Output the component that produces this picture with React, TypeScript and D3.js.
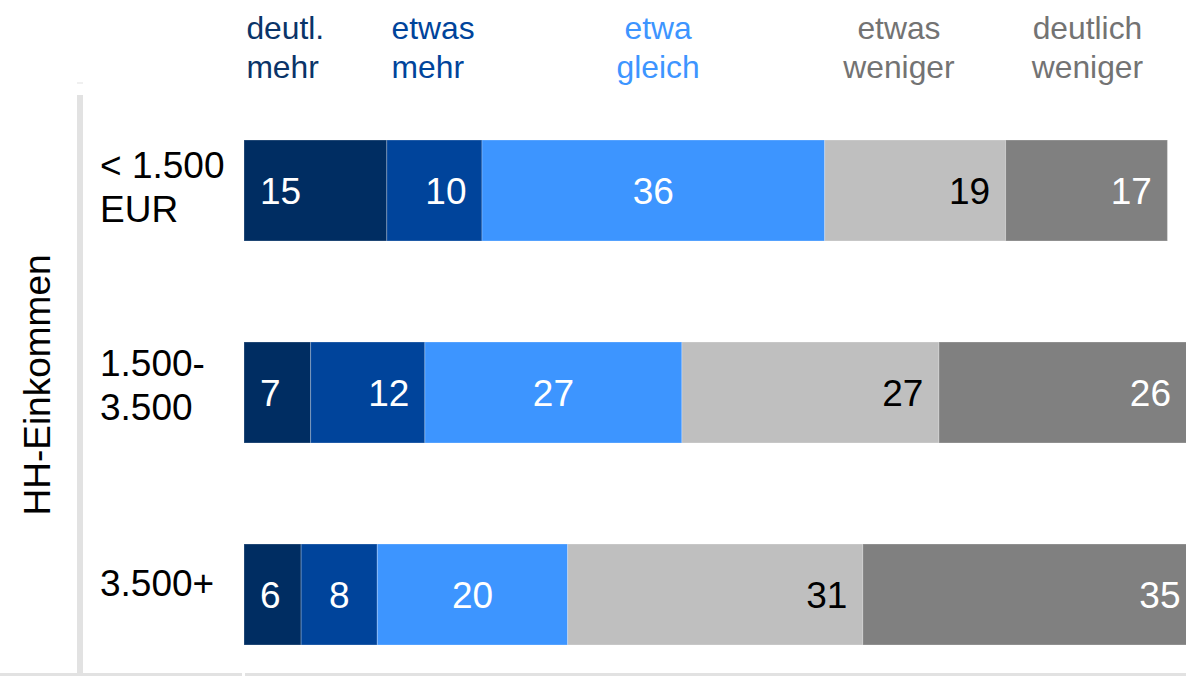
import React from "react";
import * as d3 from "d3";

const categories = ["< 1.500\nEUR", "1.500-\n3.500", "3.500+"];
const seriesNames = ["deutl.\nmehr", "etwas\nmehr", "etwa\ngleich", "etwas\nweniger", "deutlich\nweniger"];
const deutlMehr = [15, 7, 6];
const etwasMehr = [10, 12, 8];
const etwaGleich = [36, 27, 20];
const etwasWeniger = [19, 27, 31];
const deutlichWeniger = [17, 26, 35];
const yTitle = "HH-Einkommen";

const series = [deutlMehr, etwasMehr, etwaGleich, etwasWeniger, deutlichWeniger];
const fills = ["#002d62", "#00449b", "#3d95ff", "#bfbfbf", "#808080"];
const headerColors = ["#0a3468", "#00449b", "#3d95ff", "#737373", "#737373"];
const labelColors = ["#ffffff", "#ffffff", "#ffffff", "#000000", "#ffffff"];
// header anchor positions in value units and anchors
const headerPos = [0.25, 15.5, 43.5, 68.8, 88.6];
const headerAnchor = ["start", "start", "middle", "middle", "middle"];
// per-row baseline offset of first category line relative to band centre
const rowLabelOffset = [-12.5, -17, 1];

const W = 1186;
const H = 676;
const FONT = "'Liberation Sans', Arial, sans-serif";

export default function App() {
  const x = d3.scaleLinear().domain([0, 100]).range([244, 1196]);
  const y = d3.scaleBand<number>().domain([0, 1, 2]).range([140, 746]).paddingInner(0).paddingOuter(0);
  const barH = 101;

  const stack = d3
    .stack<number>()
    .keys([0, 1, 2, 3, 4] as any)
    .value((i: number, k: any) => series[k][i]);
  const stacked = stack([0, 1, 2]);

  return (
    <svg
      width={W}
      height={H}
      style={{ position: "absolute", left: 0, top: 0, fontFamily: FONT, background: "#fff" }}
    >
      <defs>
        <clipPath id="clip">
          <rect x={0} y={0} width={W} height={H} />
        </clipPath>
      </defs>
      {/* axis decorations */}
      <rect x={77} y={82} width={6} height={2} fill="#f0f0f0" />
      <rect x={77} y={95} width={6} height={H - 95} fill="#e2e2e2" />
      <rect x={0} y={673} width={242} height={3} fill="#e2e2e2" />
      <rect x={245} y={673} width={W - 245} height={3} fill="#e2e2e2" />

      {/* header */}
      {seriesNames.map((name, k) => (
        <text
          key={"h" + k}
          x={x(headerPos[k])}
          y={39}
          fontSize={31.8}
          fill={headerColors[k]}
          textAnchor={headerAnchor[k] as any}
        >
          {name.split("\n").map((line, j) => (
            <tspan key={j} x={x(headerPos[k])} dy={j === 0 ? 0 : 39}>
              {line}
            </tspan>
          ))}
        </text>
      ))}

      {/* y title */}
      <text
        transform={`translate(50,385) rotate(-90)`}
        textAnchor="middle"
        fontSize={37}
        fill="#000"
      >
        {yTitle}
      </text>

      {/* category labels */}
      {categories.map((c, i) => {
        const cy = (y(i) as number) + barH / 2;
        return (
          <text key={"c" + i} x={100} y={cy + rowLabelOffset[i]} fontSize={37} fill="#000">
            {c.split("\n").map((line, j) => (
              <tspan key={j} x={100} dy={j === 0 ? 0 : 44}>
                {line}
              </tspan>
            ))}
          </text>
        );
      })}

      {/* bars */}
      <g clipPath="url(#clip)">
        {stacked.map((layer, k) =>
          layer.map((seg, i) => {
            const x0 = x(seg[0]);
            const x1 = x(seg[1]);
            const top = y(i) as number;
            return (
              <rect
                key={`r${k}-${i}`}
                x={x0}
                y={top}
                width={x1 - x0}
                height={barH}
                fill={fills[k]}
                stroke="rgba(255,255,255,0.25)"
                strokeWidth={1}
              />
            );
          })
        )}
        {stacked.map((layer, k) =>
          layer.map((seg, i) => {
            const v = series[k][i];
            const x0 = x(seg[0]);
            const x1 = x(seg[1]);
            const cy = (y(i) as number) + barH / 2;
            let lx: number;
            let anchor: string;
            if (k === 0) {
              lx = x0 + 16;
              anchor = "start";
            } else if (k === 2 || (k === 1 && v < 10)) {
              lx = (x0 + x1) / 2;
              anchor = "middle";
            } else {
              lx = x1 - 15.5;
              anchor = "end";
            }
            return (
              <text
                key={`t${k}-${i}`}
                x={lx}
                y={cy}
                dy="0.36em"
                fontSize={37}
                fill={labelColors[k]}
                textAnchor={anchor as any}
              >
                {v}
              </text>
            );
          })
        )}
      </g>
    </svg>
  );
}
